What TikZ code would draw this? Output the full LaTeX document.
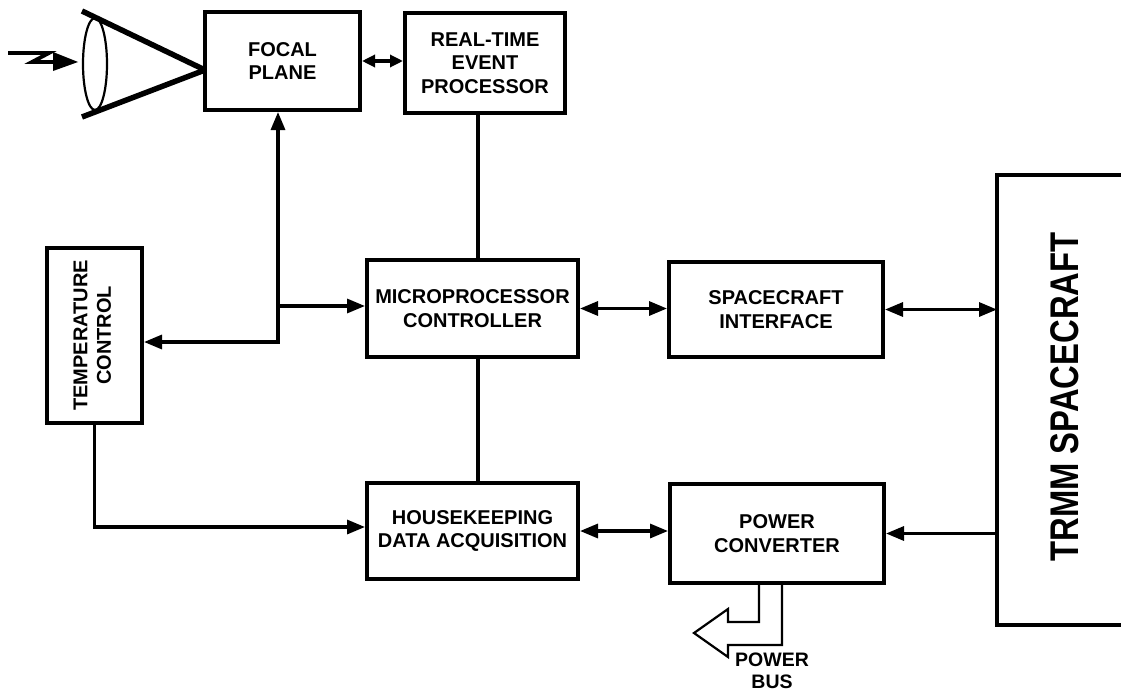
\documentclass[tikz,border=0pt]{standalone}
\usepackage{fontspec}
\setmainfont{Liberation Sans}
\usetikzlibrary{arrows.meta}
\begin{document}
\begin{tikzpicture}[x=1pt,y=-1pt,
  blk/.style={draw, line width=4pt, inner sep=0pt, align=center,
    font=\fontsize{20}{23.5}\selectfont\bfseries},
  conn/.style={line width=3.2pt},
  tip/.style={-{Triangle[length=18pt,width=14pt]}},
  dtip/.style={{Triangle[length=18pt,width=14pt]}-{Triangle[length=18pt,width=14pt]}},
  stip/.style={{Triangle[length=13pt,width=12pt]}-{Triangle[length=13pt,width=12pt]}},
  frame/.style={line width=3.4pt},
  lbl/.style={align=center, inner sep=0pt, font=\fontsize{19.5}{22}\selectfont\bfseries}
]
\useasboundingbox (0,0) rectangle (1121,693);
\fill[white] (0,0) rectangle (1121,693);

% boxes
\node[blk, minimum width=155pt, minimum height=98pt] (focal) at (282.5,61) {FOCAL\\PLANE};
\node[blk, minimum width=160pt, minimum height=100pt] (rte) at (485,63) {REAL-TIME\\EVENT\\PROCESSOR};
\node[blk, minimum width=95pt, minimum height=175pt] (temp) at (94.5,335.5)
  {\rotatebox{90}{\begin{tabular}{@{}c@{}}TEMPERATURE\\CONTROL\end{tabular}}};
\node[blk, minimum width=211pt, minimum height=97pt] (micro) at (472.5,308.5) {MICROPROCESSOR\\CONTROLLER};
\node[blk, minimum width=211pt, minimum height=96pt] (hk) at (472.5,531) {HOUSEKEEPING\\DATA ACQUISITION};
\node[blk, minimum width=214pt, minimum height=95pt] (sci) at (776,309.5) {SPACECRAFT\\INTERFACE};
\node[blk, minimum width=214pt, minimum height=99pt] (pc) at (777,533.5) {POWER\\CONVERTER};

% TRMM spacecraft (open on the right)
\draw[frame] (1121,175) -| (997,625) -- (1121,625);
\coordinate (tl) at (997,0);
\node[rotate=90, inner sep=0pt, font=\fontsize{40}{48}\selectfont\bfseries] (trmm) at (1065,397)
  {\scalebox{0.82}[1]{TRMM SPACECRAFT}};

% optics
\draw[line width=2.2pt] (95,64) ellipse [x radius=12, y radius=46];
\coordinate (ctip) at (205,70);
\draw[line width=5.5pt] (82,11) -- (ctip);
\draw[line width=5.5pt] (82,117) -- (ctip);
% incoming light
\draw[line width=3.8pt, line join=miter] (8,53) -- (49,53) -- (32,62) -- (56,62);
\fill (53,52) -- (78,62) -- (53,71) -- cycle;

% connectors
\draw[conn, stip] (focal.east) -- (focal.east -| rte.west);
\coordinate (v) at (478,0);
\draw[conn] (v |- rte.south) -- (v |- micro.north);
\draw[conn] (v |- micro.south) -- (v |- hk.north);

\coordinate (j) at (278,342);
\coordinate (b) at (278,306);
\draw[conn, dtip] (j |- focal.south) |- (j -| temp.east);
\draw[conn, tip] (b) -- (b -| micro.west);
\coordinate (r527) at (0,527);
\draw[conn, tip] (temp.south) |- (hk.west |- r527);

\draw[conn, dtip] (micro.east) -- (micro.east -| sci.west);
\draw[conn, dtip] (sci.east) -- (sci.east -| tl);
\draw[conn, dtip] (hk.east) -- (hk.east -| pc.west);
\draw[conn, tip] (pc.east -| tl) -- (pc.east);

% power bus hollow arrow
\draw[line width=2.2pt, line join=miter] (759,583) -- (759,622) -- (728,622) -- (728,609) -- (694,633)
  -- (728,657) -- (728,645) -- (782,645) -- (782,583);
\node[lbl] (bus) at (772,671) {POWER\\BUS};
\end{tikzpicture}
\end{document}
